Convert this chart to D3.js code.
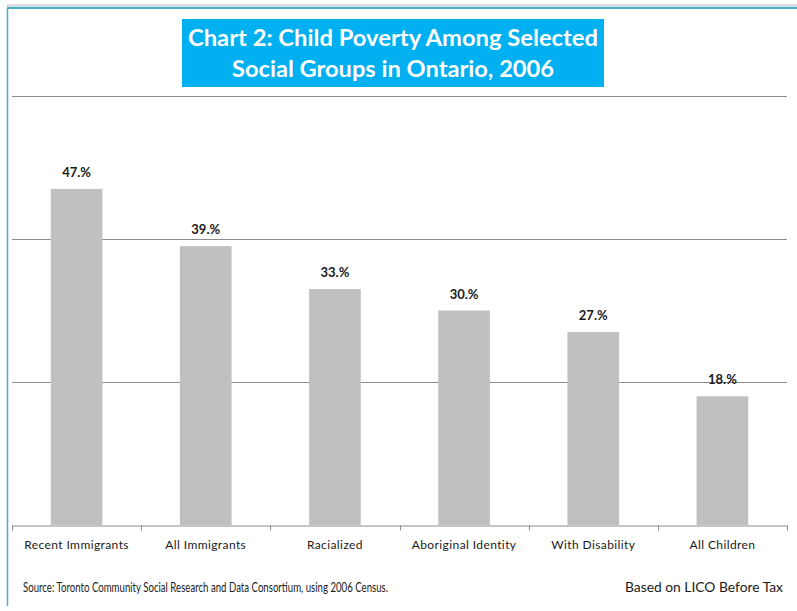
<!DOCTYPE html>
<html lang="en">
<head>
	<meta charset="utf-8">
	<title>Child Poverty Among Selected Social Groups in Ontario, 2006</title>
	<script src="https://d3js.org/d3.v7.min.js"></script>
	<style type="text/css">
		body { margin: 0; background: #fff; }
		text { font-family: Lato, "Open Sans", sans-serif; }
	</style>
</head>
<body>
	<script type="text/javascript">

		// data
		let categories = ["Recent Immigrants", "All Immigrants", "Racialized", "Aboriginal Identity", "With Disability", "All Children"];
		let values = [47, 39, 33, 30, 27, 18];
		let labels = ["47.%", "39.%", "33.%", "30.%", "27.%", "18.%"];
		let gridValues = [20, 40, 60];

		let w = 797;
		let h = 611;
		let plotLeft = 12, plotRight = 787, plotTop = 96, plotBottom = 525;

		let svg = d3.select("body")
			.append("svg")
			.attr("width", w)
			.attr("height", h);

		// frame lines
		svg.append("rect").attr("x", 7).attr("y", 4).attr("width", w - 7).attr("height", 3).attr("fill", "#d8dde0");
		svg.append("line").attr("x1", 7).attr("x2", w).attr("y1", 8).attr("y2", 8)
			.attr("stroke", "#4bacc6").attr("stroke-width", 2);
		svg.append("line").attr("x1", 7.5).attr("x2", 7.5).attr("y1", 8).attr("y2", 606)
			.attr("stroke", "#4bacc6").attr("stroke-width", 1.5);

		let xScale = d3.scaleBand()
			.domain(categories)
			.range([plotLeft, plotRight])
			.paddingInner(0.6)
			.paddingOuter(0.3);

		let yScale = d3.scaleLinear()
			.domain([0, 60])
			.range([plotBottom, plotTop]);

		// gridlines
		svg.selectAll("line.grid")
			.data(gridValues)
			.enter()
			.append("line")
			.attr("class", "grid")
			.attr("x1", plotLeft)
			.attr("x2", plotRight)
			.attr("y1", function (d) { return Math.round(yScale(d)) + 0.5; })
			.attr("y2", function (d) { return Math.round(yScale(d)) + 0.5; })
			.attr("stroke", "#8c8c8c")
			.attr("stroke-width", 1);

		// bars
		svg.selectAll("rect.bar")
			.data(values)
			.enter()
			.append("rect")
			.attr("class", "bar")
			.attr("x", function (d, i) { return xScale(categories[i]); })
			.attr("y", function (d) { return yScale(d); })
			.attr("width", xScale.bandwidth())
			.attr("height", function (d) { return yScale(0) - yScale(d); })
			.attr("fill", "#c0c0c0");

		// value labels
		svg.selectAll("text.val")
			.data(values)
			.enter()
			.append("text")
			.attr("class", "val")
			.text(function (d, i) { return labels[i]; })
			.attr("text-anchor", "middle")
			.attr("x", function (d, i) { return xScale(categories[i]) + xScale.bandwidth() / 2; })
			.attr("y", function (d) { return yScale(d) - 12; })
			.attr("font-size", "13px")
			.attr("font-weight", "bold")
			.attr("fill", "#1a1a1a");

		// x axis
		let xAxis = d3.axisBottom(xScale).tickSize(0).tickPadding(15);
		let gx = svg.append("g")
			.attr("transform", "translate(0," + (plotBottom + 0.5) + ")")
			.call(xAxis);
		gx.select(".domain").attr("stroke", "#8c8c8c");
		gx.selectAll("text")
			.attr("font-size", "12px")
			.attr("letter-spacing", "0.4px")
			.attr("fill", "#1a1a1a")
			.style("font-family", "Lato, sans-serif");

		// boundary ticks
		let bounds = d3.range(categories.length + 1).map(function (i) {
			return plotLeft + i * (plotRight - plotLeft) / categories.length;
		});
		gx.selectAll("line.bound")
			.data(bounds)
			.enter()
			.append("line")
			.attr("class", "bound")
			.attr("x1", function (d) { return Math.round(d) + 0.5; })
			.attr("x2", function (d) { return Math.round(d) + 0.5; })
			.attr("y1", 0)
			.attr("y2", 5)
			.attr("stroke", "#8c8c8c");

		// title box
		svg.append("rect")
			.attr("x", 182).attr("y", 19)
			.attr("width", 422).attr("height", 68)
			.attr("fill", "#00b0f0");
		let titleLines = ["Chart 2: Child Poverty Among Selected", "Social Groups in Ontario, 2006"];
		let titleWidths = [410, 322];
		svg.selectAll("text.title")
			.data(titleLines)
			.enter()
			.append("text")
			.attr("class", "title")
			.text(function (d) { return d; })
			.attr("x", 393)
			.attr("y", function (d, i) { return 46 + i * 31; })
			.attr("text-anchor", "middle")
			.attr("font-size", "23px")
			.attr("font-weight", "bold")
			.attr("textLength", function (d, i) { return titleWidths[i]; })
			.attr("lengthAdjust", "spacingAndGlyphs")
			.attr("fill", "#fff");

		// footnotes
		svg.append("text")
			.text("Source: Toronto Community Social Research and Data Consortium, using 2006 Census.")
			.attr("x", 23).attr("y", 592)
			.attr("font-size", "13.5px")
			.attr("textLength", 365)
			.attr("lengthAdjust", "spacingAndGlyphs")
			.attr("fill", "#1a1a1a");
		svg.append("text")
			.text("Based on LICO Before Tax")
			.attr("x", 625).attr("y", 592)
			.attr("font-size", "13px")
			.attr("textLength", 158)
			.attr("lengthAdjust", "spacingAndGlyphs")
			.attr("fill", "#1a1a1a");

	</script>
</body>
</html>
